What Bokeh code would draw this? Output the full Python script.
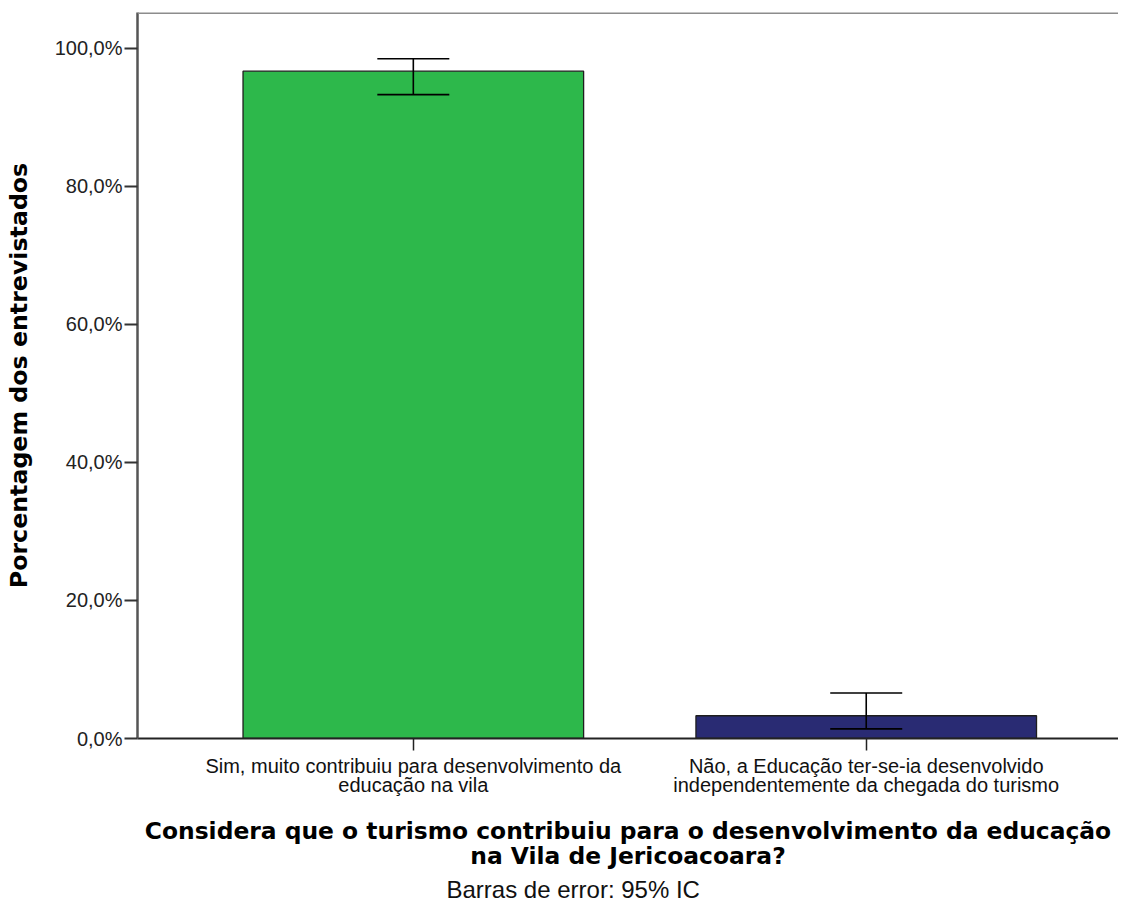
from bokeh.plotting import figure
from bokeh.models import Range1d, FixedTicker, Whisker, ColumnDataSource, Span, Title, TeeHead
from bokeh.embed import file_html
from bokeh.resources import INLINE

# ---- data ----
categories = [
    "Sim, muito contribuiu para desenvolvimento da\neducação na vila",
    "Não, a Educação ter-se-ia desenvolvido\nindependentemente da chegada do turismo",
]
percent = [96.7, 3.3]
ci_lower = [93.3, 1.4]
ci_upper = [98.5, 6.6]
bar_colors = ["#2db84b", "#292b73"]
y_ticks = [0, 20, 40, 60, 80, 100]
y_tick_labels = ["0,0%", "20,0%", "40,0%", "60,0%", "80,0%", "100,0%"]
y_label = "Porcentagem dos entrevistados"
x_title_lines = ["Considera que o turismo contribuiu para o desenvolvimento da educação",
                 "na Vila de Jericoacoara?"]
note = "Barras de error: 95% IC"

Y_MAX = 105.2
x_pos = list(range(len(categories)))
src = ColumnDataSource(dict(x=x_pos, pct=percent, lo=ci_lower, hi=ci_upper, color=bar_colors))

p = figure(width=1118, height=908, output_backend="svg", toolbar_location=None,
           x_range=Range1d(-0.609, 1.557), y_range=Range1d(0, Y_MAX),
           min_border_left=137, min_border_top=12, min_border_right=0, min_border_bottom=170)
p.outline_line_color = None
p.xgrid.visible = False
p.ygrid.visible = False
p.background_fill_color = "white"
p.border_fill_color = "white"

p.vbar(x="x", top="pct", width=0.752, fill_color="color", line_color="#1e1e1e",
       line_width=1.3, source=src)

wh = Whisker(base="x", lower="lo", upper="hi", source=src, line_color="black", line_width=1.6,
             upper_head=TeeHead(size=72, line_color="black", line_width=1.6),
             lower_head=TeeHead(size=72, line_color="black", line_width=1.6))
wh.level = "annotation"
p.add_layout(wh)

p.add_layout(Span(location=Y_MAX, dimension="width", line_color="#8c8c8c", line_width=3))

# y axis
ya = p.yaxis[0]
ya.ticker = FixedTicker(ticks=y_ticks)
ya.major_label_overrides = {t: l for t, l in zip(y_ticks, y_tick_labels)}
ya.minor_tick_line_color = None
ya.major_tick_out = 13
ya.major_tick_in = 0
ya.major_tick_line_color = "#333333"
ya.major_tick_line_width = 2
ya.axis_line_color = "#555555"
ya.axis_line_width = 2.5
ya.major_label_text_font = "Liberation Sans"
ya.major_label_text_font_size = "20px"
ya.major_label_text_color = "#222222"
ya.major_label_standoff = 2
ya.axis_label = y_label
ya.axis_label_text_font = "DejaVu Sans"
ya.axis_label_text_font_style = "bold"
ya.axis_label_text_font_size = "23.7px"
ya.axis_label_text_color = "black"
ya.axis_label_standoff = 19

# x axis
xa = p.xaxis[0]
xa.ticker = FixedTicker(ticks=x_pos)
xa.major_label_overrides = {i: c for i, c in zip(x_pos, categories)}
xa.minor_tick_line_color = None
xa.major_tick_out = 12
xa.major_tick_in = 0
xa.major_tick_line_color = "#222222"
xa.major_tick_line_width = 1.5
xa.axis_line_color = "#222222"
xa.axis_line_width = 2
xa.major_label_text_font = "Liberation Sans"
xa.major_label_text_font_size = "20px"
xa.major_label_text_color = "#111111"
xa.major_label_text_line_height = 0.88
xa.major_label_standoff = 4
xa.axis_label = "\n".join(x_title_lines)
xa.axis_label_text_font = "DejaVu Sans"
xa.axis_label_text_font_style = "bold"
xa.axis_label_text_font_size = "23.4px"
xa.axis_label_text_color = "black"
xa.axis_label_text_line_height = 0.88
xa.axis_label_standoff = 18

t2 = Title(text=note, align="left", offset=309, text_font="Liberation Sans",
           text_font_style="normal", text_font_size="24px", text_color="#111111", standoff=2)
p.add_layout(t2, "below")

open("out.html", "w").write(file_html(p, INLINE))
